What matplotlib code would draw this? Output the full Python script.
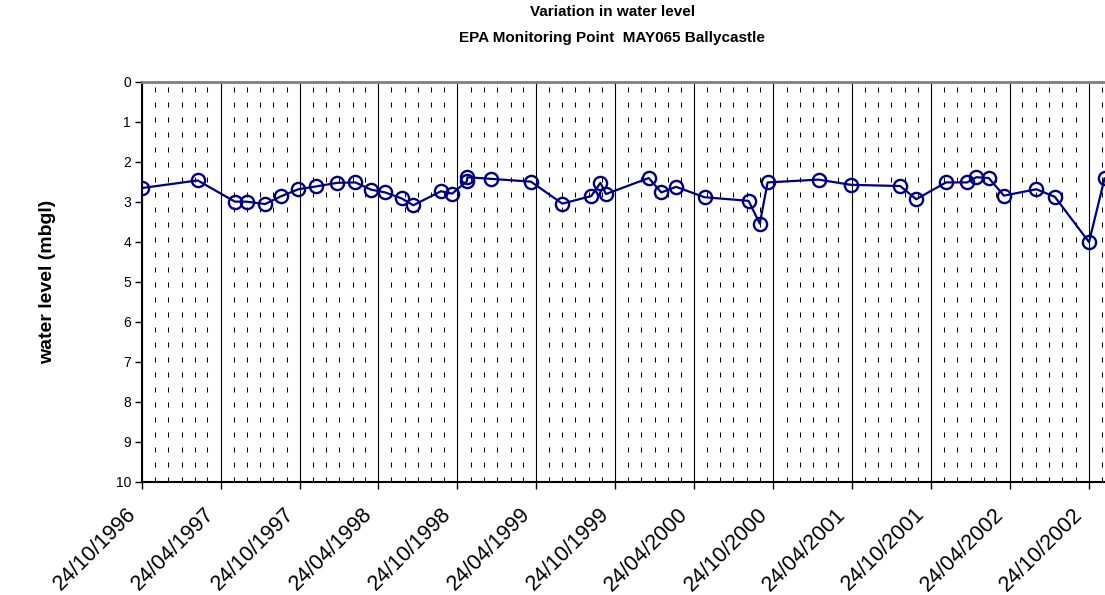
import pandas as pd
import numpy as np
import matplotlib.pyplot as plt
import matplotlib.dates as mdates
from matplotlib.transforms import ScaledTranslation

# Sample dates and water level (metres below ground level)
dates = [
    "1996-10-24", "1997-03-02", "1997-05-27", "1997-06-23", "1997-08-05",
    "1997-09-10", "1997-10-21", "1997-12-01", "1998-01-19", "1998-03-02",
    "1998-04-07", "1998-05-10", "1998-06-17", "1998-07-14", "1998-09-16",
    "1998-10-12", "1998-11-15", "1998-11-16", "1999-01-09", "1999-04-12",
    "1999-06-24", "1999-08-30", "1999-09-20", "1999-10-03", "2000-01-10",
    "2000-02-08", "2000-03-13", "2000-05-18", "2000-08-28", "2000-09-23",
    "2000-10-11", "2001-02-06", "2001-04-22", "2001-08-14", "2001-09-20",
    "2001-11-28", "2002-01-16", "2002-02-06", "2002-03-07", "2002-04-11",
    "2002-06-25", "2002-08-07", "2002-10-25", "2002-11-30",
]
levels = [
    2.66, 2.47, 3.00, 3.00, 3.06,
    2.87, 2.69, 2.62, 2.53, 2.52,
    2.70, 2.77, 2.92, 3.09, 2.74,
    2.80, 2.49, 2.39, 2.43, 2.50,
    3.05, 2.86, 2.53, 2.81, 2.41,
    2.77, 2.63, 2.89, 2.98, 3.55,
    2.52, 2.45, 2.58, 2.61, 2.94,
    2.52, 2.52, 2.39, 2.41, 2.85,
    2.69, 2.88, 4.01, 2.42,
]

axis_start = "1996-10-24"
axis_end = "2002-12-01"
y_ticks = list(range(0, 11))

plt.rcParams['font.family'] = ['Liberation Sans', 'DejaVu Sans']

dates = pd.to_datetime(dates)
major = pd.date_range(axis_start, periods=13, freq=pd.DateOffset(months=6))
minor = pd.date_range(axis_start, axis_end, freq=pd.DateOffset(months=1))
minor = [d for d in minor if d not in set(major)]

fig = plt.figure(figsize=(11.05, 5.95), dpi=100)
ax = fig.add_axes([0.1285, 0.19, 0.8715, 0.673])

# vertical grid: solid every 6 months, dashed monthly
for d in minor:
    ax.axvline(d, color='black', lw=0.75, linestyle=(0, (4.8, 9.6)), zorder=1)
for d in major:
    ax.axvline(d, color='black', lw=0.8, zorder=1)

ax.plot(dates, levels, color='#000080', lw=1.6, marker='o', ms=9.5,
        mfc='none', mec='#000080', mew=1.7, zorder=3)

ax.set_ylim(10, 0)
ax.set_yticks(y_ticks)
ax.set_xlim(pd.Timestamp(axis_start), pd.Timestamp(axis_end))
ax.set_xticks(major)
ax.xaxis.set_major_formatter(mdates.DateFormatter('%d/%m/%Y'))
ax.tick_params(axis='x', labelsize=15.5, length=5, width=1, direction='out', pad=16)
ax.tick_params(axis='y', labelsize=10, length=5, width=1, direction='out', pad=3)
shift = ScaledTranslation(-0.09, 0, fig.dpi_scale_trans)
for lbl in ax.get_xticklabels():
    lbl.set_rotation(45)
    lbl.set_ha('right')
    lbl.set_va('center')
    lbl.set_rotation_mode('anchor')
    lbl.set_transform(lbl.get_transform() + shift)

ax.spines['right'].set_visible(False)
ax.spines['top'].set_color('#808080')
ax.spines['top'].set_linewidth(2)
ax.spines['left'].set_linewidth(1.5)
ax.spines['bottom'].set_linewidth(1.5)

ax.set_ylabel('water level (mbgl)', fontsize=14, fontweight='bold')
ax.yaxis.set_label_coords(-0.089, 0.5)
fig.text(0.554, 1 - 12 / 595, 'Variation in water level',
         ha='center', va='center', fontsize=11, fontweight='bold')
fig.text(0.554, 1 - 38 / 595, 'EPA Monitoring Point  MAY065 Ballycastle',
         ha='center', va='center', fontsize=11, fontweight='bold')

fig.savefig('out.png', dpi=100)
